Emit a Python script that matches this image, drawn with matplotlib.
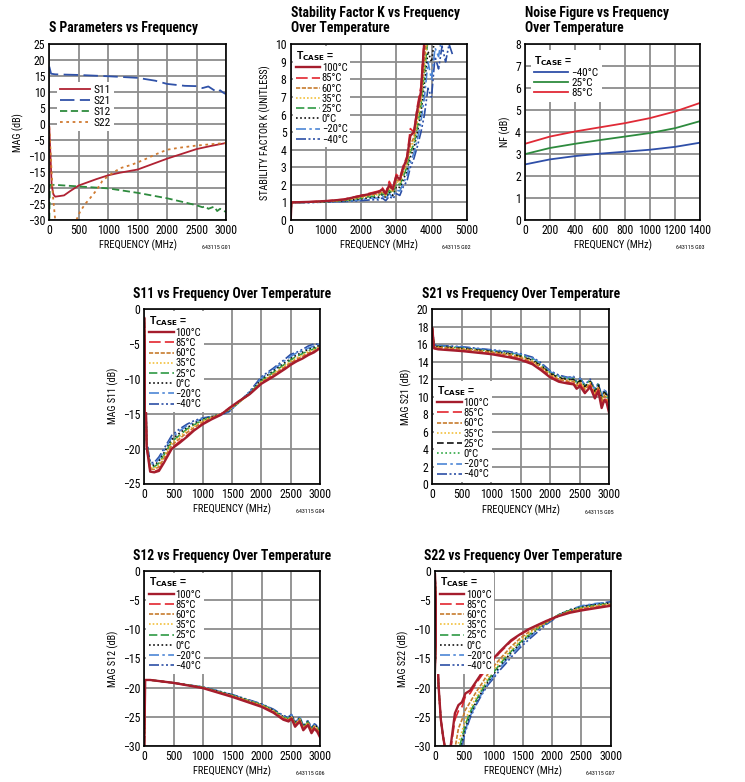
import os
import numpy as np
import matplotlib
matplotlib.use('Agg')
import matplotlib.pyplot as plt
from matplotlib import font_manager as fm

# look for a narrow/condensed face (reference uses a condensed grotesque)
def find_font(keys):
    for k in keys:
        for f in fm.fontManager.ttflist:
            if k.lower() in os.path.basename(f.fname).lower():
                return f.fname
    return None

bold_file = find_font(['LiberationSansNarrow-Bold.', 'NotoSans-CondensedBold.', 'OpenSans-CondensedBold.',
                       'OpenSans_Condensed-Bold.', 'RobotoCondensed-Bold.', 'DejaVuSansCondensed-Bold.',
                       'Condensed-Bold.', 'CondensedBold.', 'Narrow-Bold.'])
reg_file = find_font(['LiberationSansNarrow-Regular.', 'NotoSans-Condensed.', 'OpenSans-Condensed.',
                      'OpenSans_Condensed-Regular.', 'RobotoCondensed-Regular.', 'DejaVuSansCondensed.',
                      'Condensed-Regular.', 'Condensed.', 'Narrow-Regular.', 'Narrow.'])

plt.rcParams['font.family'] = ['Liberation Sans', 'DejaVu Sans']
plt.rcParams['axes.unicode_minus'] = True


def fp(size, bold=False):
    f = bold_file if bold else reg_file
    if f:
        return fm.FontProperties(fname=f, size=size)
    return fm.FontProperties(family=['Liberation Sans', 'DejaVu Sans'], size=size * 0.85,
                             weight='bold' if bold else 'normal')

# ---------------- data ----------------
TEMPS = ['100°C', '85°C', '60°C', '35°C', '25°C', '0°C', '−20°C', '−40°C']

# S parameters vs frequency (25°C)
s11_f = [0, 20, 40, 70, 100, 250, 350, 500, 650, 800, 1000, 1200, 1500, 1750, 2000, 2250, 2500, 2750, 3000]
s11_v = [-0.8, -10, -19, -22, -22.7, -22.3, -21.0, -19.2, -18.2, -17.2, -16.0, -15.2, -14.2, -12.5, -10.8, -9.3, -7.8, -6.8, -5.9]
s21_f = [0, 30, 100, 500, 1000, 1500, 1800, 2000, 2300, 2500, 2600, 2700, 2800, 2850, 2900, 2950, 3000]
s21_v = [18, 15.8, 15.6, 15.4, 15.0, 14.5, 13.6, 12.6, 12.0, 11.9, 11.3, 11.8, 10.6, 10.0, 10.6, 9.9, 9.4]
s12_f = [0, 10, 100, 500, 1000, 1500, 2000, 2300, 2500, 2600, 2650, 2700, 2800, 2850, 2900, 3000]
s12_v = [-30, -19, -19, -19.5, -20.1, -21.5, -23.2, -24.5, -25.4, -26.0, -25.7, -26.5, -25.8, -27.2, -26.5, -27.5]
s22_f = [0, 30, 60, 100, 200, 300, 400, 460, 520, 600, 700, 800, 900, 1000, 1200, 1400, 1600, 1800, 2000, 2200, 2500, 2800, 3000]
s22_v = [-1, -12, -22, -30, -34, -35, -33, -30, -27.5, -25.2, -23, -20.7, -17.8, -16.2, -13.8, -12.7, -11.2, -9.5, -8.0, -7.4, -6.7, -6.2, -5.9]

# stability factor K
k_f = [0, 20, 500, 1000, 1500, 2000, 2300, 2500, 2600, 2700, 2800, 2900, 3000, 3100, 3200, 3300,
       3400, 3500, 3600, 3700, 3800, 3900, 4000, 4100, 4200, 4300, 4400, 4500, 4600]
nan = np.nan
k_100 = [0, 1.0, 1.03, 1.08, 1.16, 1.38, 1.5, 1.6, 1.75, 1.5, 2.0, 1.75, 2.5, 2.3, 3.0, 3.5, 4.8, 5.0, 6.3, 7.3, 10.3, nan, nan, nan, nan, nan, nan, nan, nan]
k_85 = [0, 1.0, 1.03, 1.08, 1.18, 1.4, 1.55, 1.65, 1.85, 1.55, 2.2, 1.8, 2.6, 2.4, 3.1, 3.6, 5.2, 5.0, 6.5, 7.6, 10.5, nan, nan, nan, nan, nan, nan, nan, nan]
k_60 = [0, 1.0, 1.02, 1.07, 1.14, 1.32, 1.45, 1.5, 1.65, 1.45, 1.9, 1.65, 2.3, 2.2, 2.8, 3.3, 4.3, 4.7, 5.9, 7.0, 9.2, 11, nan, nan, nan, nan, nan, nan, nan]
k_35 = [0, 1.0, 1.02, 1.06, 1.12, 1.28, 1.4, 1.45, 1.6, 1.4, 1.8, 1.6, 2.2, 2.1, 2.7, 3.2, 4.1, 4.5, 5.6, 6.8, 8.8, 10.6, nan, nan, nan, nan, nan, nan, nan]
k_25 = [0, 1.0, 1.01, 1.05, 1.1, 1.25, 1.35, 1.4, 1.55, 1.35, 1.7, 1.5, 2.1, 2.0, 2.5, 3.0, 3.9, 4.3, 5.3, 6.5, 8.4, 10.3, nan, nan, nan, nan, nan, nan, nan]
k_0 = [0, 1.0, 1.01, 1.04, 1.08, 1.2, 1.3, 1.3, 1.45, 1.28, 1.6, 1.4, 1.9, 1.85, 2.3, 2.8, 3.6, 4.1, 5.0, 6.1, 7.8, 9.6, 9.0, 10.5, nan, nan, nan, nan, nan]
k_m20 = [0, 1.0, 1.0, 1.03, 1.06, 1.15, 1.25, 1.25, 1.38, 1.2, 1.5, 1.3, 1.7, 1.65, 2.1, 2.5, 3.3, 3.8, 4.6, 5.6, 7.0, 9.0, 8.0, 9.8, 9.3, 10.5, nan, nan, nan]
k_m40 = [0, 1.0, 0.99, 1.02, 1.05, 1.1, 1.15, 1.15, 1.25, 1.1, 1.35, 1.2, 1.5, 1.4, 1.9, 2.2, 3.0, 3.5, 4.2, 5.0, 6.0, 7.5, 7.0, 9.3, 8.6, 9.9, 9.0, 10.0, 9.4]

# noise figure
nf_f = [0, 200, 400, 600, 800, 1000, 1200, 1400]
nf_m40 = [2.53, 2.76, 2.91, 3.02, 3.11, 3.2, 3.33, 3.52]
nf_25 = [3.0, 3.28, 3.47, 3.64, 3.8, 3.96, 4.18, 4.5]
nf_85 = [3.47, 3.8, 4.03, 4.22, 4.41, 4.64, 4.94, 5.33]

# S11 over temperature
t11_f = [0, 40, 100, 170, 250, 330, 470, 600, 730, 850, 1000, 1150, 1300, 1450, 1600, 1800, 2000, 2200, 2400, 2500, 2600, 2700, 2800, 2900, 3000]
t11_100 = [-1.3, -19.7, -23.3, -23.4, -23.2, -22.1, -20.0, -19.2, -18.3, -17.4, -16.5, -15.8, -15.2, -14.2, -13.3, -12.2, -10.7, -9.7, -8.6, -8.0, -7.5, -7.1, -6.6, -6.2, -5.6]
t11_85 = [-1.3, -19.8, -23.2, -23.3, -23.0, -21.9, -19.9, -19.0, -18.1, -17.3, -16.4, -15.7, -15.1, -14.2, -13.3, -12.2, -10.6, -9.6, -8.5, -7.9, -7.4, -7.0, -6.5, -6.1, -5.6]
t11_60 = [-1.3, -19.5, -22.9, -23.0, -22.6, -21.5, -19.5, -18.6, -17.7, -17.0, -16.2, -15.6, -15.1, -14.3, -13.4, -12.2, -10.5, -9.4, -8.3, -7.7, -7.2, -6.8, -6.3, -6.0, -5.5]
t11_35 = [-1.3, -19.4, -22.7, -22.8, -22.3, -21.2, -19.2, -18.3, -17.4, -16.8, -16.0, -15.5, -15.1, -14.4, -13.5, -12.2, -10.4, -9.3, -8.1, -7.5, -7.0, -6.6, -6.1, -5.8, -5.4]
t11_25 = [-1.3, -19.3, -22.6, -22.6, -22.1, -21.0, -19.0, -18.1, -17.2, -16.6, -15.9, -15.5, -15.1, -14.4, -13.5, -12.1, -10.3, -9.1, -7.9, -7.3, -6.8, -6.4, -6.0, -5.7, -5.3]
t11_0 = [-1.3, -19.2, -22.4, -22.4, -21.8, -20.7, -18.7, -17.8, -17.0, -16.4, -15.8, -15.4, -15.1, -14.5, -13.5, -12.0, -10.1, -8.9, -7.7, -7.1, -6.6, -6.2, -5.8, -5.5, -5.2]
t11_m20 = [-1.3, -19.0, -22.2, -22.2, -21.5, -20.4, -18.4, -17.5, -16.7, -16.2, -15.7, -15.4, -15.2, -14.6, -13.5, -11.9, -9.9, -8.7, -7.4, -6.8, -6.3, -6.0, -5.6, -5.3, -5.0]
t11_m40 = [-1.3, -18.9, -22.0, -22.0, -21.2, -20.1, -18.1, -17.2, -16.5, -16.0, -15.6, -15.4, -15.2, -14.7, -13.5, -11.8, -9.7, -8.5, -7.2, -6.5, -6.2, -5.8, -5.3, -5.0, -5.1]

# S21 over temperature
t21_f = [0, 30, 100, 500, 1000, 1300, 1500, 1700, 1850, 2000, 2150, 2300, 2400, 2450, 2510, 2590, 2680, 2760, 2820, 2875, 2920, 2960, 3000]
t21_100 = [17.8, 15.5, 15.4, 15.2, 14.85, 14.5, 14.2, 13.7, 13.0, 12.2, 11.7, 11.5, 11.4, 10.9, 11.2, 10.4, 11.1, 9.8, 10.6, 8.7, 9.6, 9.3, 8.2]
t21_85 = [17.8, 15.55, 15.45, 15.25, 14.9, 14.6, 14.3, 13.8, 13.1, 12.3, 11.8, 11.6, 11.5, 11.0, 11.4, 10.6, 11.3, 10.0, 10.8, 9.0, 9.8, 9.5, 8.5]
t21_60 = [17.8, 15.65, 15.6, 15.4, 15.05, 14.75, 14.45, 13.95, 13.3, 12.45, 11.95, 11.75, 11.7, 11.2, 11.6, 10.8, 11.5, 10.2, 11.0, 9.3, 10.1, 9.8, 8.8]
t21_35 = [17.8, 15.7, 15.65, 15.45, 15.1, 14.85, 14.55, 14.05, 13.4, 12.55, 12.05, 11.85, 11.8, 11.3, 11.7, 10.95, 11.6, 10.35, 11.1, 9.5, 10.3, 10.0, 9.0]
t21_25 = [17.8, 15.75, 15.7, 15.5, 15.15, 14.9, 14.6, 14.15, 13.5, 12.65, 12.15, 11.95, 11.95, 11.45, 11.85, 11.1, 11.75, 10.5, 11.3, 9.7, 10.5, 10.2, 9.2]
t21_0 = [17.8, 15.8, 15.75, 15.55, 15.2, 14.95, 14.7, 14.25, 13.6, 12.75, 12.25, 12.05, 12.05, 11.55, 11.95, 11.2, 11.85, 10.6, 11.4, 9.8, 10.6, 10.3, 9.3]
t21_m20 = [17.8, 15.85, 15.8, 15.65, 15.3, 15.05, 14.8, 14.4, 13.75, 12.85, 12.35, 12.15, 12.2, 11.7, 12.05, 11.3, 11.95, 10.75, 11.5, 9.95, 10.75, 10.4, 9.4]
t21_m40 = [17.8, 15.9, 15.85, 15.7, 15.35, 15.15, 14.9, 14.5, 13.85, 12.95, 12.45, 12.2, 12.3, 11.75, 12.1, 11.35, 12.0, 10.8, 11.6, 10.0, 10.8, 10.5, 9.5]

# S12 over temperature
t12_f = [0, 15, 100, 500, 1000, 1500, 2000, 2200, 2370, 2460, 2510, 2570, 2650, 2710, 2790, 2850, 2900, 2950, 3000]
t12_100 = [-30, -18.7, -18.7, -19.2, -20.1, -21.6, -23.3, -24.3, -25.5, -25.8, -25.3, -26.7, -25.8, -27.3, -26.4, -27.8, -27.0, -27.6, -28.6]
t12_85 = [-30, -18.7, -18.7, -19.2, -20.05, -21.5, -23.2, -24.2, -25.4, -25.6, -25.2, -26.5, -25.7, -27.1, -26.2, -27.6, -26.8, -27.4, -28.4]
t12_60 = [-30, -18.7, -18.7, -19.2, -20.0, -21.45, -23.1, -24.1, -25.3, -25.5, -25.1, -26.4, -25.5, -27.0, -26.1, -27.4, -26.7, -27.2, -28.1]
t12_35 = [-30, -18.7, -18.7, -19.2, -20.0, -21.4, -23.0, -24.0, -25.2, -25.4, -25.0, -26.3, -25.4, -26.9, -26.0, -27.3, -26.6, -27.0, -27.9]
t12_25 = [-30, -18.7, -18.7, -19.2, -19.95, -21.35, -22.95, -23.9, -25.1, -25.3, -24.9, -26.2, -25.3, -26.8, -25.9, -27.2, -26.5, -26.9, -27.7]
t12_0 = [-30, -18.7, -18.7, -19.2, -19.95, -21.3, -22.9, -23.85, -25.0, -25.2, -24.8, -26.1, -25.2, -26.7, -25.8, -27.1, -26.4, -26.8, -27.5]
t12_m20 = [-30, -18.7, -18.7, -19.2, -19.9, -21.25, -22.85, -23.8, -24.9, -25.1, -24.7, -26.0, -25.1, -26.6, -25.7, -27.0, -26.3, -26.7, -27.3]
t12_m40 = [-30, -18.7, -18.7, -19.2, -19.9, -21.2, -22.8, -23.7, -24.8, -25.0, -24.6, -25.9, -25.0, -26.5, -25.6, -26.9, -26.2, -26.6, -27.2]

# S22 over temperature
t22_f = [0, 30, 60, 100, 140, 200, 270, 340, 400, 460, 520, 600, 700, 800, 900, 1000, 1100, 1200, 1300, 1450, 1600, 1750, 1900, 2100, 2300, 2500, 2750, 3000]
t22_100 = [-0.6, -10, -19.6, -25.5, -28.5, -32, -29.8, -24.4, -23.0, -22.5, -21.0, -20.5, -19.0, -17.5, -16.2, -15.0, -13.9, -12.9, -11.9, -10.9, -10.0, -9.3, -8.6, -7.8, -7.2, -6.8, -6.4, -6.0]
t22_85 = [-0.6, -10, -19.6, -25.5, -28.5, -32, -30.5, -25.5, -24.0, -23.3, -21.5, -21.0, -19.3, -17.9, -16.5, -15.3, -14.1, -13.1, -12.1, -11.0, -10.1, -9.35, -8.6, -7.75, -7.1, -6.7, -6.3, -5.95]
t22_60 = [-0.6, -10, -19.6, -25.5, -28.5, -32, -34, -30.5, -27, -25.5, -23.8, -22.5, -20.8, -19.3, -17.7, -16.4, -15.2, -14.1, -13.0, -11.6, -10.5, -9.6, -8.8, -7.7, -7.0, -6.5, -6.1, -5.8]
t22_35 = [-0.6, -10, -19.6, -25.5, -28.5, -32, -35, -33, -29.5, -27.5, -25.5, -23.6, -21.7, -20.0, -18.4, -17.0, -15.7, -14.6, -13.5, -12.0, -10.8, -9.8, -8.9, -7.7, -6.9, -6.4, -6.0, -5.7]
t22_25 = [-0.6, -10, -19.6, -25.5, -28.5, -32, -35, -34, -31, -28.5, -26.3, -24.2, -22.2, -20.4, -18.8, -17.4, -16.1, -14.9, -13.8, -12.3, -11.0, -9.9, -8.9, -7.6, -6.8, -6.3, -5.9, -5.6]
t22_0 = [-0.6, -10, -19.6, -25.5, -28.5, -32, -35, -35, -32, -29.2, -26.8, -24.6, -22.5, -20.7, -19.1, -17.7, -16.4, -15.2, -14.0, -12.5, -11.2, -10.0, -8.9, -7.6, -6.7, -6.2, -5.8, -5.5]
t22_m20 = [-0.6, -10, -19.6, -25.5, -28.5, -32, -35, -35, -33, -29.8, -27.2, -24.9, -22.8, -21.0, -19.4, -18.0, -16.7, -15.5, -14.3, -12.8, -11.4, -10.2, -9.0, -7.6, -6.7, -6.0, -5.6, -5.4]
t22_m40 = [-0.6, -10, -19.6, -25.5, -28.5, -32, -35, -35, -33, -30, -27.5, -25.2, -23.0, -21.2, -19.6, -18.4, -17.1, -16.0, -14.8, -13.2, -11.8, -10.5, -9.2, -7.8, -6.9, -6.1, -5.7, -5.3]

# ---------------- styles ----------------
STYLE = {
    '100°C': ('#a51d2d', '-', 1.7),
    '85°C': ('#e3262f', (0, (7, 2.5)), 1.2),
    '60°C': ('#c77b2e', (0, (2.5, 1)), 1.2),
    '35°C': ('#f2c03c', (0, (1, 1.2)), 1.2),
    '25°C': ('#2f9a44', (0, (5, 2)), 1.2),
    '0°C': ('#111111', (0, (1, 1.5)), 1.2),
    '−20°C': ('#4d86d6', (0, (6, 2, 1.5, 2)), 1.2),
    '−40°C': ('#2c4fa5', (0, (6, 1.5, 1.2, 1.5, 1.2, 1.5)), 1.2),
}
TCASE = r'T$_{\mathbf{CASE}}$ ='
LEG = dict(frameon=True, fancybox=False, framealpha=1, edgecolor='none', facecolor='white')

fig = plt.figure(figsize=(7.45, 7.82), dpi=100)
W, H = 745.0, 782.0


def make_axes(l, t, r, b):
    return fig.add_axes([l / W, 1 - b / H, (r - l) / W, (b - t) / H])


def style_axes(ax, xlim, xstep, ylim, ystep, ylabel, code):
    ax.set_xlim(xlim)
    ax.set_ylim(ylim)
    ax.set_xticks(np.arange(xlim[0], xlim[1] + 1, xstep))
    ax.set_yticks(np.arange(ylim[0], ylim[1] + 0.01, ystep))
    ax.grid(True, color='#8c8c8c', lw=1.3)
    ax.set_axisbelow(True)
    for s in ax.spines.values():
        s.set_linewidth(1.2)
    ax.tick_params(length=0, pad=3)
    for lbl in ax.get_xticklabels() + ax.get_yticklabels():
        lbl.set_fontproperties(fp(8.5))
    ax.set_xlabel('FREQUENCY (MHz)', fontproperties=fp(7.5), labelpad=2)
    ax.set_ylabel(ylabel, fontproperties=fp(7.3), labelpad=3)
    ax.annotate(code, xy=(1, 0), xycoords='axes fraction', xytext=(3, -20),
                textcoords='offset points', fontproperties=fp(4.3), ha='right', va='center')


def set_title(ax, text, loc='center', pad=8):
    ax.set_title(text, fontproperties=fp(9.8, bold=True), loc=loc, pad=pad, linespacing=1.05)


def temp_legend(ax, loc, anchor):
    h, l = ax.get_legend_handles_labels()
    handles = [h[l.index(t)] for t in TEMPS]
    leg = ax.legend(handles, TEMPS, loc=loc, bbox_to_anchor=anchor, prop=fp(7.7), title=TCASE,
                    title_fontproperties={'size': 7.5, 'weight': 'bold'}, alignment='left',
                    handlelength=2.3, handletextpad=0.15, labelspacing=0.02, borderpad=0.25,
                    borderaxespad=0.2, **LEG)
    return leg


def plot_temps(ax, f, series, swap=False):
    for t in reversed(TEMPS):
        c, ls, lw = STYLE[t]
        if swap and t == '25°C':
            c, ls = '#111111', (0, (4, 2))
        elif swap and t == '0°C':
            c = '#2fa844'
        ax.plot(f, series[t], color=c, ls=ls, lw=lw, label=t)


# ---- panel 1: S parameters ----
ax1 = make_axes(49.3, 44.3, 226, 220)
ax1.plot(s11_f, s11_v, color='#b02233', lw=1.3, label='S11')
ax1.plot(s21_f, s21_v, color='#3052a8', lw=1.3, ls=(0, (8, 3)), label='S21')
ax1.plot(s12_f, s12_v, color='#2e8b3e', lw=1.3, ls=(0, (4, 2)), label='S12')
ax1.plot(s22_f, s22_v, color='#d07a30', lw=1.3, ls=(0, (1.5, 2)), label='S22')
style_axes(ax1, (0, 3000), 500, (-30, 25), 5, 'MAG (dB)', '643115 G01')
ax1.legend(loc='upper left', bbox_to_anchor=(0.01, 0.82), prop=fp(8.2), handlelength=2.6,
           handletextpad=0.35, labelspacing=0.08, borderpad=0.3, **LEG)
set_title(ax1, 'S Parameters vs Frequency', loc='left', pad=9)

# ---- panel 2: stability factor ----
ax2 = make_axes(290.7, 44.3, 466.7, 220)
plot_temps(ax2, k_f, dict(zip(TEMPS, [k_100, k_85, k_60, k_35, k_25, k_0, k_m20, k_m40])))
style_axes(ax2, (0, 5000), 1000, (0, 10), 1, 'STABILITY FACTOR K (UNITLESS)', '643115 G02')
temp_legend(ax2, 'upper left', (0, 1))
set_title(ax2, 'Stability Factor K vs Frequency\nOver Temperature', loc='left', pad=9)

# ---- panel 3: noise figure ----
ax3 = make_axes(525, 44.3, 700, 220)
ax3.plot(nf_f, nf_m40, color='#2f4fa8', lw=1.3, label='−40°C')
ax3.plot(nf_f, nf_25, color='#2e8b3e', lw=1.3, label='25°C')
ax3.plot(nf_f, nf_85, color='#e02a36', lw=1.3, label='85°C')
style_axes(ax3, (0, 1400), 200, (0, 8), 1, 'NF (dB)', '643115 G03')
ax3.legend(loc='upper left', bbox_to_anchor=(0, 1), prop=fp(8), title=TCASE,
           title_fontproperties={'size': 7.5, 'weight': 'bold'}, alignment='left',
           handlelength=3.0, handletextpad=0.3, labelspacing=0.02, borderpad=0.35, **LEG)
set_title(ax3, 'Noise Figure vs Frequency\nOver Temperature', loc='left', pad=9)

# ---- panel 4: S11 ----
ax4 = make_axes(144.3, 309, 320, 483.5)
plot_temps(ax4, t11_f, dict(zip(TEMPS, [t11_100, t11_85, t11_60, t11_35, t11_25, t11_0, t11_m20, t11_m40])))
style_axes(ax4, (0, 3000), 500, (-25, 0), 5, 'MAG S11 (dB)', '643115 G04')
temp_legend(ax4, 'upper left', (0, 1))
set_title(ax4, 'S11 vs Frequency Over Temperature')

# ---- panel 5: S21 ----
ax5 = make_axes(432.3, 309, 609, 484.3)
plot_temps(ax5, t21_f, dict(zip(TEMPS, [t21_100, t21_85, t21_60, t21_35, t21_25, t21_0, t21_m20, t21_m40])), swap=True)
style_axes(ax5, (0, 3000), 500, (0, 20), 2, 'MAG S21 (dB)', '643115 G05')
temp_legend(ax5, 'lower left', (0, 0))
set_title(ax5, 'S21 vs Frequency Over Temperature')

# ---- panel 6: S12 ----
ax6 = make_axes(144.3, 570.7, 320.3, 746)
plot_temps(ax6, t12_f, dict(zip(TEMPS, [t12_100, t12_85, t12_60, t12_35, t12_25, t12_0, t12_m20, t12_m40])))
style_axes(ax6, (0, 3000), 500, (-30, 0), 5, 'MAG S12 (dB)', '643115 G06')
temp_legend(ax6, 'upper left', (0, 1))
set_title(ax6, 'S12 vs Frequency Over Temperature')

# ---- panel 7: S22 ----
ax7 = make_axes(435, 570.7, 610.7, 746)
plot_temps(ax7, t22_f, dict(zip(TEMPS, [t22_100, t22_85, t22_60, t22_35, t22_25, t22_0, t22_m20, t22_m40])))
style_axes(ax7, (0, 3000), 500, (-30, 0), 5, 'MAG S22 (dB)', '643115 G07')
temp_legend(ax7, 'upper left', (0, 1))
set_title(ax7, 'S22 vs Frequency Over Temperature')

fig.savefig('out.png', dpi=100, facecolor='white')
